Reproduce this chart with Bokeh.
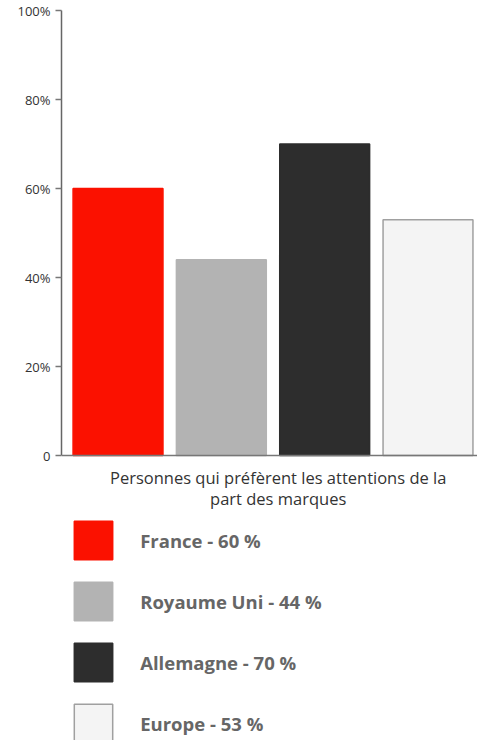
from bokeh.plotting import figure
from bokeh.models import Range1d, FixedTicker, Span, Legend, LegendItem, ColumnDataSource
from bokeh.embed import file_html
from bokeh.resources import INLINE
from bokeh.core.properties import value

countries = ["France", "Royaume Uni", "Allemagne", "Europe"]
values = [60, 44, 70, 53]
y_ticks = [0, 20, 40, 60, 80, 100]
y_tick_labels = ["0", "20%", "40%", "60%", "80%", "100%"]
axis_title = "Personnes qui préfèrent les attentions de la\npart des marques"

fill_colors = ["#fb1100", "#b3b3b3", "#2d2d2d", "#f4f4f4"]
line_colors = ["#fb1100", "#b3b3b3", "#2d2d2d", "#a0a0a0"]

FONT = "Open Sans"

source = ColumnDataSource(dict(
    x=list(range(len(countries))),
    top=values,
    fill=fill_colors,
    line=line_colors,
    label=[f"{c} - {v} %" for c, v in zip(countries, values)],
))

p = figure(width=477, height=740, output_backend="svg", toolbar_location=None,
           x_range=Range1d(-0.547, 3.479), y_range=Range1d(-64.04, 102.25),
           x_axis_type=None, min_border_left=61, min_border_right=0,
           min_border_top=0, min_border_bottom=0)
p.outline_line_color = None
p.grid.visible = False
p.background_fill_color = "white"

bars = p.vbar(x="x", top="top", bottom=0, width=0.87, source=source,
              fill_color="fill", line_color="line", line_width=1.5)

p.add_layout(Span(location=0, dimension="width", line_color="#777777", line_width=1.5))

ax = p.yaxis[0]
ax.bounds = (0, 100)
ax.ticker = FixedTicker(ticks=y_ticks)
ax.major_label_overrides = {t: l for t, l in zip(y_ticks, y_tick_labels)}
ax.minor_tick_line_color = None
ax.major_tick_in = 0
ax.major_tick_out = 6
ax.major_label_standoff = 5
ax.axis_line_color = "#666666"
ax.axis_line_width = 1.5
ax.major_tick_line_color = "#777777"
ax.major_tick_line_width = 1.5
ax.major_label_text_font = FONT
ax.major_label_text_font_size = "13px"
ax.major_label_text_color = "#333333"

p.text(x=[1.55], y=[-2.45], text=[axis_title], text_font=value(FONT),
       text_font_size="16.5px", text_color="#333333", text_align="center",
       text_baseline="top", text_line_height=0.9)

items = [LegendItem(label=lbl, renderers=[bars], index=i) for i, lbl in enumerate(source.data["label"])]
legend = Legend(items=items, location=(8.2, -7.2), orientation="vertical",
                glyph_width=48, glyph_height=48, spacing=13, label_standoff=23,
                padding=0, margin=0, border_line_color=None, background_fill_alpha=0,
                label_text_font=FONT, label_text_font_size="18.5px",
                label_text_font_style="bold", label_text_color="#666666")
p.add_layout(legend)

open("out.html", "w").write(file_html(p, INLINE))
